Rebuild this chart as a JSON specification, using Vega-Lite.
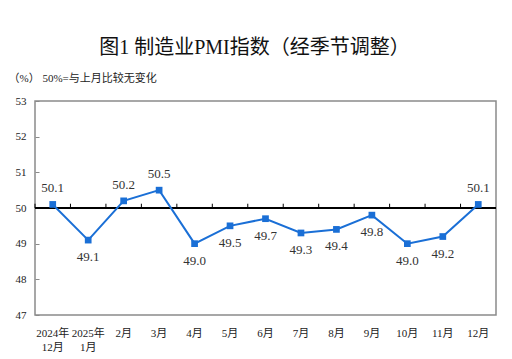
{
  "$schema": "https://vega.github.io/schema/vega-lite/v6.json",
  "autosize": "none",
  "width": 461,
  "height": 214,
  "padding": {"left": 35, "top": 101, "right": 16, "bottom": 44},
  "background": "white",
  "title": {
    "text": "图1  制造业PMI指数（经季节调整）",
    "anchor": "middle",
    "frame": "group",
    "dx": -11,
    "offset": -6,
    "fontSize": 20,
    "fontWeight": "normal",
    "font": "Liberation Serif, Noto Sans CJK SC",
    "color": "#111111",
    "baseline": "bottom"
  },
  "config": {
    "view": {"stroke": "#8a8a8a", "strokeWidth": 1.5},
    "font": "Liberation Serif, Noto Sans CJK SC"
  },
  "data": {
    "values": [
      {"month": "2024年12月", "pmi": 50.1},
      {"month": "2025年1月", "pmi": 49.1},
      {"month": "2月", "pmi": 50.2},
      {"month": "3月", "pmi": 50.5},
      {"month": "4月", "pmi": 49.0},
      {"month": "5月", "pmi": 49.5},
      {"month": "6月", "pmi": 49.7},
      {"month": "7月", "pmi": 49.3},
      {"month": "8月", "pmi": 49.4},
      {"month": "9月", "pmi": 49.8},
      {"month": "10月", "pmi": 49.0},
      {"month": "11月", "pmi": 49.2},
      {"month": "12月", "pmi": 50.1}
    ]
  },
  "encoding": {
    "x": {
      "field": "month",
      "type": "ordinal",
      "sort": null,
      "scale": {"type": "band", "paddingInner": 0, "paddingOuter": 0},
      "axis": {
        "orient": "bottom",
        "title": null,
        "labelAngle": 0,
        "labelFontSize": 11,
        "labelColor": "#222222",
        "labelPadding": 12,
        "labelLineHeight": 14,
        "labelBaseline": "top",
        "ticks": false,
        "domain": false,
        "labelExpr": "test(/年/, datum.value) ? split(replace(datum.value, '年', '年|'), '|') : datum.value"
      }
    },
    "y": {
      "field": "pmi",
      "type": "quantitative",
      "scale": {"domain": [47, 53], "nice": false, "zero": false},
      "axis": {
        "title": "（%）  50%=与上月比较无变化",
        "titleAngle": 0,
        "titleX": -27,
        "titleY": -23,
        "titleAlign": "left",
        "titleBaseline": "middle",
        "titleFontSize": 11,
        "titleFontWeight": "normal",
        "titleColor": "#222222",
        "values": [47, 48, 49, 50, 51, 52, 53],
        "labelOverlap": false,
        "grid": false,
        "domain": false,
        "tickSize": -4,
        "tickColor": "#8a8a8a",
        "labelPadding": 13,
        "labelFontSize": 11,
        "labelColor": "#222222"
      }
    }
  },
  "layer": [
    {
      "mark": {"type": "rule", "color": "#000000", "strokeWidth": 1},
      "encoding": {"y": {"datum": 50, "type": "quantitative"}, "x": null}
    },
    {
      "mark": {"type": "rule", "color": "#000000", "strokeWidth": 1},
      "encoding": {
        "x": {"field": "month", "type": "ordinal", "sort": null, "bandPosition": 0},
        "y": {"datum": 50, "type": "quantitative"},
        "y2": {"datum": 50.12}
      }
    },
    {
      "mark": {"type": "line", "color": "#1a6fd6", "strokeWidth": 2}
    },
    {
      "mark": {"type": "square", "color": "#1a6fd6", "size": 45, "opacity": 1, "filled": true}
    },
    {
      "transform": [{"filter": "datum.pmi >= 50"}],
      "mark": {"type": "text", "dy": -16, "fontSize": 13, "color": "#333333"},
      "encoding": {"text": {"field": "pmi", "type": "quantitative", "format": ".1f"}}
    },
    {
      "transform": [{"filter": "datum.pmi < 50"}],
      "mark": {"type": "text", "dy": 17, "fontSize": 13, "color": "#333333"},
      "encoding": {"text": {"field": "pmi", "type": "quantitative", "format": ".1f"}}
    }
  ]
}
